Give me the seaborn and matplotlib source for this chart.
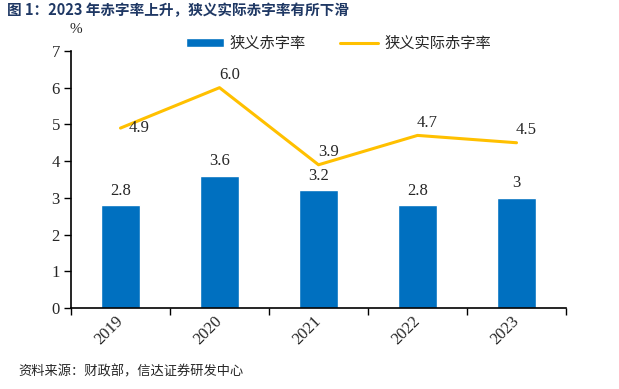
import matplotlib
matplotlib.use("Agg")
import matplotlib.pyplot as plt
import seaborn as sns
import pandas as pd
import numpy as np
from matplotlib.ticker import FixedLocator

years = ["2019", "2020", "2021", "2022", "2023"]
deficit = [2.8, 3.6, 3.2, 2.8, 3.0]
deficit_labels = ["2.8", "3.6", "3.2", "2.8", "3"]
real_deficit = [4.9, 6.0, 3.9, 4.7, 4.5]
real_labels = ["4.9", "6.0", "3.9", "4.7", "4.5"]
yticks = [0, 1, 2, 3, 4, 5, 6, 7]

sns.set_style("white")
plt.rcParams['font.family'] = ['Liberation Serif', 'Noto Sans CJK SC', 'DejaVu Sans']

df = pd.DataFrame({"year": years, "deficit": deficit, "real": real_deficit,
                   "pos": np.arange(len(years))})

fig = plt.figure(figsize=(6.19, 3.89), dpi=100)
ax = fig.add_axes([0.1147, 0.2083, 0.7997, 0.6607])

sns.barplot(data=df, x="year", y="deficit", color="#0070C0", width=0.4,
            saturation=1, ax=ax, label="狭义赤字率", zorder=2)
sns.lineplot(data=df, x="pos", y="real", color="#FFC000", linewidth=2.2,
             ax=ax, label="狭义实际赤字率", zorder=3)

ax.set_xlim(-0.5, 4.5)
ax.set_ylim(0, 7)
ax.set_yticks(yticks)
ax.set_yticklabels([str(v) for v in yticks], fontsize=12)
ax.set_xlabel("")
ax.set_ylabel("")

ax.xaxis.set_major_locator(FixedLocator(np.arange(-0.5, 5, 1)))
ax.xaxis.set_minor_locator(FixedLocator(np.arange(0, 5)))
ax.set_xticklabels([], minor=False)
ax.set_xticklabels(years, minor=True, rotation=45, fontsize=12)
ax.tick_params(axis="x", which="major", direction="out", length=5, width=1, color="black", bottom=True)
ax.tick_params(axis="x", which="minor", length=0, pad=8)
ax.tick_params(axis="y", direction="out", length=5, width=1, color="black", left=True, pad=3)
for lbl in ax.get_xticklabels(minor=True):
    lbl.set_ha("right")
    lbl.set_rotation_mode("anchor")
    lbl.set_va("center")

for s in ["top", "right"]:
    ax.spines[s].set_visible(False)
for s in ["left", "bottom"]:
    ax.spines[s].set_color("black")
    ax.spines[s].set_linewidth(1.2)

for i, (v, t) in enumerate(zip(deficit, deficit_labels)):
    ax.text(i, v + 0.18, t, ha="center", va="bottom", fontsize=12)
for i, (v, t) in enumerate(zip(real_deficit, real_labels)):
    if i == 0:
        ax.text(i + 0.08, v, t, ha="left", va="center", fontsize=12)
    else:
        ax.text(i + 0.1, v + 0.12, t, ha="center", va="bottom", fontsize=12)

h, l = ax.get_legend_handles_labels()
order = [l.index("狭义赤字率"), l.index("狭义实际赤字率")]
h = [h[i] for i in order]
l = [l[i] for i in order]
leg = ax.legend(h, l, loc="center", bbox_to_anchor=(0.54, 1.03), ncol=2,
                frameon=False, handlelength=2.5, columnspacing=2.2, handletextpad=0.4,
                handleheight=0.6, prop={"family": ["Noto Sans CJK SC"], "size": 11})

fig.text(0.123, 0.915, "%", fontsize=11, ha="center")
fig.text(0.012, 0.962, "图 1：2023 年赤字率上升，狭义实际赤字率有所下滑", fontsize=10.5,
         fontweight="bold", color="#1F3864", family=["Noto Sans CJK SC", "DejaVu Sans"])
fig.text(0.03, 0.035, "资料来源：财政部，信达证券研发中心", fontsize=9.5, style="italic",
         family=["Noto Sans CJK SC", "DejaVu Sans"])

fig.savefig("out.png", dpi=100)
